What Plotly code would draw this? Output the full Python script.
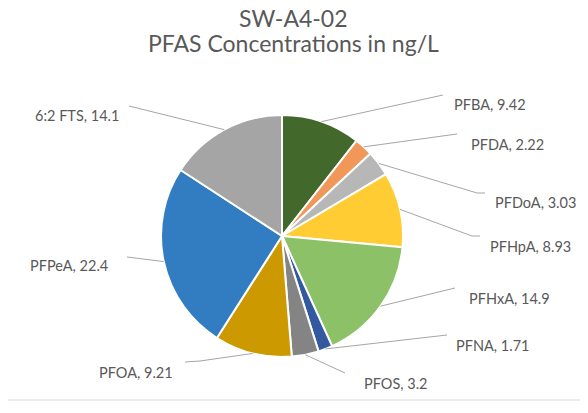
import math
import plotly.graph_objects as go

# ---- data ----
labels = ["PFBA", "PFDA", "PFDoA", "PFHpA", "PFHxA", "PFNA", "PFOS", "PFOA", "PFPeA", "6:2 FTS"]
values = [9.42, 2.22, 3.03, 8.93, 14.9, 1.71, 3.2, 9.21, 22.4, 14.1]
colors = ["#43682B", "#F1975A", "#B7B7B7", "#FFCD33", "#8CC168",
          "#335AA1", "#848484", "#CC9A00", "#327DC2", "#A5A5A5"]
title_lines = ["SW-A4-02", "PFAS Concentrations in ng/L"]

# ---- layout (page pixels; the page body adds an 8px margin) ----
OFF = 8
W, H = 588 - OFF, 413 - OFF
cx, cy, r = 282, 236, 121
# label text positions: (x, y_center, anchor)
label_pos = [
    (452, 104, "left"), (469, 144, "left"), (493, 203, "left"), (488, 246, "left"),
    (467, 298, "left"), (454, 345, "left"), (362, 383, "left"), (175, 372, "right"),
    (110, 265, "right"), (121, 116, "right"),
]
# leader line points after the slice edge point
leader_pts = [
    [(443, 95)], [(457, 134)], [(477, 193), (485, 193)], [(472, 236), (480, 236)],
    [(455, 288)], [(447, 335)], [(345, 373)], [(200, 361), (185, 362)],
    [(127, 257)], [(129, 106)],
]
title_y = [18, 43]

FONT = "Lato"
TXT = "#595959"

def px(x):
    return (x - OFF) / W

def py(y):
    return 1 - (y - OFF) / H

fig = go.Figure(go.Pie(
    labels=labels, values=values, sort=False, direction="clockwise", rotation=0,
    marker=dict(colors=colors, line=dict(color="white", width=2)),
    textinfo="none", hoverinfo="label+value",
    domain=dict(x=[px(cx - r), px(cx + r)], y=[py(cy + r), py(cy - r)]),
))

total = sum(values)
cum = 0.0
annotations = []
shapes = []
for lab, v, (tx, ty, anc), pts in zip(labels, values, label_pos, leader_pts):
    mid = (cum + v / 2) / total * 2 * math.pi
    cum += v
    ex = cx + r * math.sin(mid)
    ey = cy - r * math.cos(mid)
    path = f"M {px(ex)} {py(ey)}" + "".join(f" L {px(a)} {py(b)}" for a, b in pts)
    shapes.append(dict(type="path", xref="paper", yref="paper", path=path,
                       line=dict(color="#A6A6A6", width=1)))
    annotations.append(dict(x=px(tx), y=py(ty), xref="paper", yref="paper",
                            xanchor=anc, yanchor="middle", showarrow=False,
                            text=f"{lab}, {v:g}",
                            font=dict(family=FONT, size=14.5, color=TXT)))

for line, ty in zip(title_lines, title_y):
    annotations.append(dict(x=px(293), y=py(ty), xref="paper", yref="paper",
                            xanchor="center", yanchor="middle", showarrow=False,
                            text=line,
                            font=dict(family=FONT, size=23, color=TXT)))

shapes.append(dict(type="line", xref="paper", yref="paper", x0=0, x1=1,
                   y0=py(400), y1=py(400), line=dict(color="#D9D9D9", width=1)))

fig.update_layout(
    width=W, height=H, margin=dict(l=0, r=0, t=0, b=0),
    paper_bgcolor="white", plot_bgcolor="white", showlegend=False,
    annotations=annotations, shapes=shapes,
)
fig.write_html("out.html")
